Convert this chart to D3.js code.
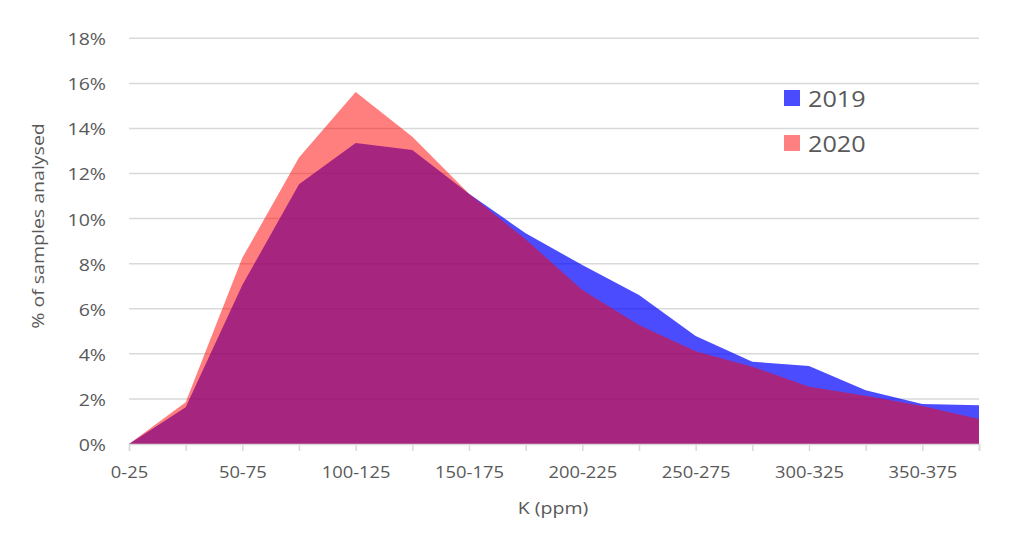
<!DOCTYPE html>
<html>
<head>
<meta charset="utf-8">
<script src="https://cdn.jsdelivr.net/npm/d3@7"></script>
<style>
  html, body { margin: 0; padding: 0; background: #ffffff; }
  svg { display: block; }
  text { font-family: "Open Sans", sans-serif; fill: #595959; }
</style>
</head>
<body>
<svg id="chart" width="1024" height="536"></svg>
<script>
const categories = ["0-25","25-50","50-75","75-100","100-125","125-150","150-175","175-200",
                    "200-225","225-250","250-275","275-300","300-325","325-350","350-375","375-400"];
const shownTickLabels = ["0-25","50-75","100-125","150-175","200-225","250-275","300-325","350-375"];
const values2019 = [0, 1.63, 7.05, 11.53, 13.36, 13.04, 11.1, 9.35, 7.94, 6.61, 4.79, 3.65, 3.46, 2.39, 1.77, 1.72];
const values2020 = [0, 1.85, 8.26, 12.71, 15.62, 13.63, 11.1, 9.08, 6.83, 5.28, 4.12, 3.43, 2.54, 2.14, 1.69, 1.11];
const yTicks = [0, 2, 4, 6, 8, 10, 12, 14, 16, 18];
const seriesNames = ["2019", "2020"];

const svg = d3.select("#chart");
const STRETCH = 1.15;

const x = d3.scalePoint().domain(categories).range([129, 979]);
const y = d3.scaleLinear().domain([0, 18]).range([444, 38.3]);

// gridlines
svg.append("g").selectAll("line").data(yTicks.filter(d => d > 0)).join("line")
  .attr("x1", 129).attr("x2", 979)
  .attr("y1", d => y(d)).attr("y2", d => y(d))
  .attr("stroke", "#d9d9d9").attr("stroke-width", 1.5);

// areas
const area = d3.area()
  .x((d, i) => x(categories[i]))
  .y0(y(0))
  .y1(d => y(d));

svg.append("path").datum(values2019)
  .attr("d", area)
  .attr("fill", "rgb(0,0,255)").attr("fill-opacity", 0.7);
svg.append("path").datum(values2020)
  .attr("d", area)
  .attr("fill", "rgb(255,0,0)").attr("fill-opacity", 0.5);

// x axis
const xAxis = svg.append("g").attr("transform", `translate(0,${y(0)})`)
  .call(d3.axisBottom(x).tickSize(7).tickPadding(15)
    .tickFormat(d => shownTickLabels.includes(d) ? d : ""));
xAxis.select(".domain").attr("stroke", "#d9d9d9").attr("stroke-width", 1.5);
xAxis.selectAll(".tick line").attr("stroke", "#d9d9d9").attr("stroke-width", 1.5);
xAxis.selectAll(".tick text")
  .attr("font-size", 17).attr("fill", "#595959")
  .style("font-family", '"Open Sans", sans-serif')
  .attr("transform", "scale(1.08,1)");

// y axis labels
const yAxis = svg.append("g").attr("transform", "translate(129,0)")
  .call(d3.axisLeft(y).tickValues(yTicks).tickSize(0).tickPadding(0)
    .tickFormat(d => d + "%"));
yAxis.select(".domain").remove();
yAxis.selectAll(".tick text")
  .attr("x", 0)
  .attr("font-size", 17).attr("fill", "#595959")
  .style("font-family", '"Open Sans", sans-serif')
  .attr("transform", `translate(-23,1) scale(${STRETCH},1)`);

// axis titles
svg.append("text")
  .attr("transform", `translate(553,507) scale(${STRETCH},1)`)
  .attr("text-anchor", "middle").attr("dominant-baseline", "central")
  .attr("font-size", 17)
  .text("K (ppm)");

svg.append("text")
  .attr("transform", `translate(37,226) rotate(-90) scale(${STRETCH},1)`)
  .attr("text-anchor", "middle").attr("dominant-baseline", "central")
  .attr("font-size", 17)
  .text("% of samples analysed");

// legend
const legendColors = ["#4a4aff", "#ff8080"];
const legendY = [98, 143];
const legend = svg.append("g");
seriesNames.forEach((name, i) => {
  legend.append("rect")
    .attr("x", 784).attr("y", legendY[i] - 8)
    .attr("width", 16).attr("height", 16)
    .attr("fill", legendColors[i]);
  legend.append("text")
    .attr("transform", `translate(808,${legendY[i] + 1}) scale(1.2,1)`)
    .attr("dominant-baseline", "central")
    .attr("font-size", 21)
    .text(name);
});
</script>
</body>
</html>
